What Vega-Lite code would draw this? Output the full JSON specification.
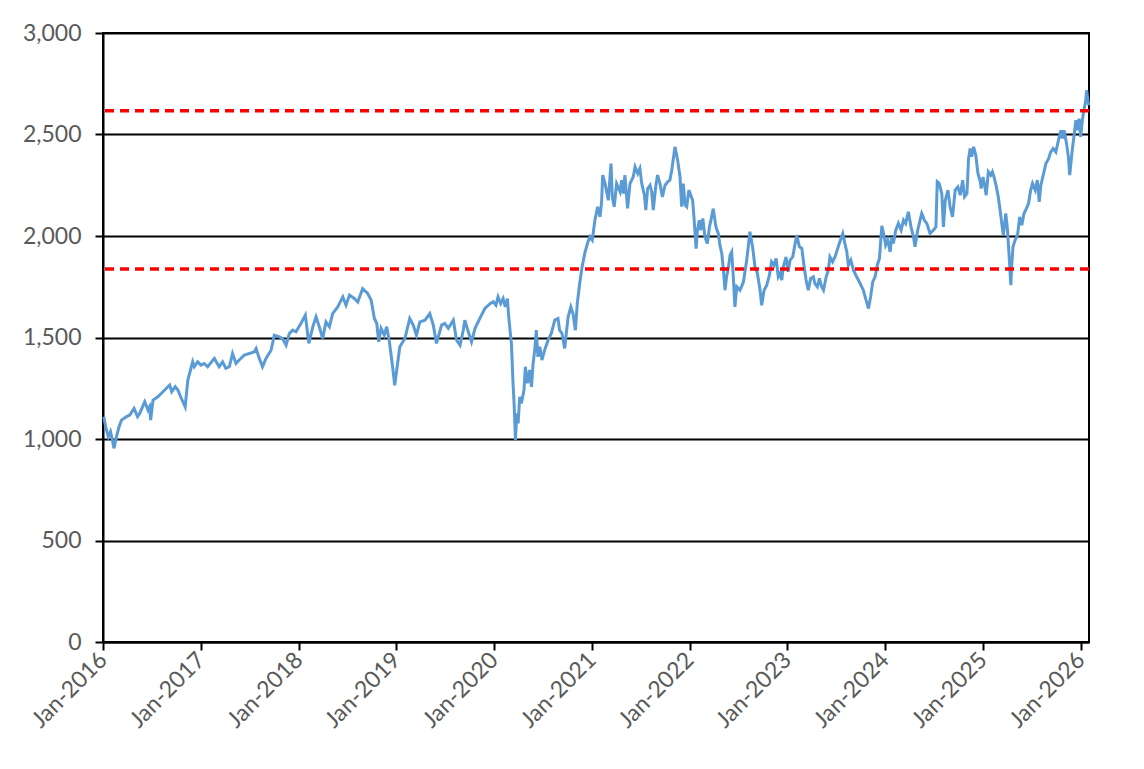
{
  "$schema": "https://vega.github.io/schema/vega-lite/v6.json",
  "width": 986,
  "height": 609,
  "autosize": "none",
  "padding": {"left": 103, "top": 33, "right": 55, "bottom": 127},
  "background": "white",
  "datasets": {
    "index": [
      {"d": "2016-01-04", "v": 1110}, {"d": "2016-01-11", "v": 1060}, {"d": "2016-01-21", "v": 1011}, {"d": "2016-01-29", "v": 1036},
      {"d": "2016-02-05", "v": 995}, {"d": "2016-02-11", "v": 954}, {"d": "2016-02-20", "v": 1011}, {"d": "2016-03-01", "v": 1060},
      {"d": "2016-03-10", "v": 1093}, {"d": "2016-03-29", "v": 1110}, {"d": "2016-04-10", "v": 1118}, {"d": "2016-04-26", "v": 1151},
      {"d": "2016-05-09", "v": 1110}, {"d": "2016-05-17", "v": 1126}, {"d": "2016-06-05", "v": 1184}, {"d": "2016-06-17", "v": 1143},
      {"d": "2016-06-23", "v": 1159}, {"d": "2016-06-27", "v": 1093}, {"d": "2016-07-06", "v": 1192}, {"d": "2016-07-24", "v": 1208},
      {"d": "2016-08-12", "v": 1233}, {"d": "2016-08-24", "v": 1249}, {"d": "2016-09-06", "v": 1266}, {"d": "2016-09-14", "v": 1233},
      {"d": "2016-09-27", "v": 1257}, {"d": "2016-10-07", "v": 1241}, {"d": "2016-10-17", "v": 1208}, {"d": "2016-11-03", "v": 1159},
      {"d": "2016-11-13", "v": 1290}, {"d": "2016-12-01", "v": 1380}, {"d": "2016-12-07", "v": 1356}, {"d": "2016-12-20", "v": 1380},
      {"d": "2017-01-01", "v": 1364}, {"d": "2017-01-13", "v": 1372}, {"d": "2017-01-26", "v": 1356}, {"d": "2017-02-20", "v": 1397},
      {"d": "2017-03-10", "v": 1356}, {"d": "2017-03-23", "v": 1380}, {"d": "2017-04-04", "v": 1348}, {"d": "2017-04-17", "v": 1356},
      {"d": "2017-04-29", "v": 1421}, {"d": "2017-05-12", "v": 1372}, {"d": "2017-05-24", "v": 1389}, {"d": "2017-06-12", "v": 1413},
      {"d": "2017-07-19", "v": 1429}, {"d": "2017-07-26", "v": 1446}, {"d": "2017-08-07", "v": 1397}, {"d": "2017-08-19", "v": 1356},
      {"d": "2017-09-01", "v": 1397}, {"d": "2017-09-20", "v": 1437}, {"d": "2017-10-02", "v": 1511}, {"d": "2017-10-21", "v": 1503},
      {"d": "2017-11-02", "v": 1495}, {"d": "2017-11-15", "v": 1462}, {"d": "2017-11-27", "v": 1519}, {"d": "2017-12-10", "v": 1536},
      {"d": "2017-12-22", "v": 1528}, {"d": "2018-01-10", "v": 1570}, {"d": "2018-01-26", "v": 1610}, {"d": "2018-02-08", "v": 1471},
      {"d": "2018-02-23", "v": 1553}, {"d": "2018-03-07", "v": 1602}, {"d": "2018-03-19", "v": 1553}, {"d": "2018-04-01", "v": 1495},
      {"d": "2018-04-13", "v": 1577}, {"d": "2018-04-26", "v": 1553}, {"d": "2018-05-08", "v": 1618}, {"d": "2018-05-27", "v": 1651},
      {"d": "2018-06-15", "v": 1700}, {"d": "2018-06-27", "v": 1659}, {"d": "2018-07-10", "v": 1709}, {"d": "2018-07-28", "v": 1692},
      {"d": "2018-08-10", "v": 1675}, {"d": "2018-08-28", "v": 1741}, {"d": "2018-09-16", "v": 1717}, {"d": "2018-09-29", "v": 1684},
      {"d": "2018-10-11", "v": 1594}, {"d": "2018-10-20", "v": 1569}, {"d": "2018-10-27", "v": 1479}, {"d": "2018-11-05", "v": 1545},
      {"d": "2018-11-17", "v": 1512}, {"d": "2018-11-26", "v": 1553}, {"d": "2018-12-06", "v": 1479}, {"d": "2018-12-18", "v": 1356},
      {"d": "2018-12-26", "v": 1265}, {"d": "2019-01-04", "v": 1356}, {"d": "2019-01-14", "v": 1454}, {"d": "2019-02-02", "v": 1495},
      {"d": "2019-02-20", "v": 1594}, {"d": "2019-03-05", "v": 1561}, {"d": "2019-03-17", "v": 1512}, {"d": "2019-03-30", "v": 1577},
      {"d": "2019-04-18", "v": 1585}, {"d": "2019-05-06", "v": 1618}, {"d": "2019-05-19", "v": 1561}, {"d": "2019-05-31", "v": 1471},
      {"d": "2019-06-19", "v": 1561}, {"d": "2019-07-01", "v": 1569}, {"d": "2019-07-14", "v": 1545}, {"d": "2019-08-02", "v": 1585},
      {"d": "2019-08-14", "v": 1487}, {"d": "2019-08-27", "v": 1462}, {"d": "2019-09-08", "v": 1536}, {"d": "2019-09-14", "v": 1585},
      {"d": "2019-09-27", "v": 1528}, {"d": "2019-10-09", "v": 1479}, {"d": "2019-10-22", "v": 1545}, {"d": "2019-11-09", "v": 1594},
      {"d": "2019-11-28", "v": 1643}, {"d": "2019-12-17", "v": 1667}, {"d": "2019-12-29", "v": 1676}, {"d": "2020-01-08", "v": 1659},
      {"d": "2020-01-16", "v": 1700}, {"d": "2020-01-26", "v": 1667}, {"d": "2020-02-04", "v": 1692}, {"d": "2020-02-12", "v": 1651},
      {"d": "2020-02-20", "v": 1692}, {"d": "2020-02-25", "v": 1602}, {"d": "2020-03-02", "v": 1520}, {"d": "2020-03-06", "v": 1471},
      {"d": "2020-03-12", "v": 1274}, {"d": "2020-03-16", "v": 1175}, {"d": "2020-03-21", "v": 995}, {"d": "2020-03-26", "v": 1126},
      {"d": "2020-03-31", "v": 1077}, {"d": "2020-04-06", "v": 1208}, {"d": "2020-04-12", "v": 1175}, {"d": "2020-04-22", "v": 1241},
      {"d": "2020-04-27", "v": 1356}, {"d": "2020-05-05", "v": 1274}, {"d": "2020-05-13", "v": 1340}, {"d": "2020-05-20", "v": 1257},
      {"d": "2020-05-26", "v": 1372}, {"d": "2020-06-01", "v": 1438}, {"d": "2020-06-07", "v": 1536}, {"d": "2020-06-13", "v": 1405},
      {"d": "2020-06-20", "v": 1454}, {"d": "2020-06-28", "v": 1389}, {"d": "2020-07-08", "v": 1438}, {"d": "2020-07-21", "v": 1487},
      {"d": "2020-08-02", "v": 1520}, {"d": "2020-08-15", "v": 1586}, {"d": "2020-08-27", "v": 1594}, {"d": "2020-09-02", "v": 1536},
      {"d": "2020-09-11", "v": 1520}, {"d": "2020-09-21", "v": 1446}, {"d": "2020-09-27", "v": 1520}, {"d": "2020-10-04", "v": 1602},
      {"d": "2020-10-14", "v": 1651}, {"d": "2020-10-22", "v": 1618}, {"d": "2020-10-31", "v": 1536}, {"d": "2020-11-07", "v": 1667},
      {"d": "2020-11-16", "v": 1766}, {"d": "2020-11-25", "v": 1848}, {"d": "2020-12-05", "v": 1914}, {"d": "2020-12-15", "v": 1963},
      {"d": "2020-12-24", "v": 1996}, {"d": "2021-01-02", "v": 1980}, {"d": "2021-01-12", "v": 2078}, {"d": "2021-01-22", "v": 2144},
      {"d": "2021-01-31", "v": 2094}, {"d": "2021-02-06", "v": 2169}, {"d": "2021-02-10", "v": 2300}, {"d": "2021-02-19", "v": 2258},
      {"d": "2021-03-03", "v": 2176}, {"d": "2021-03-13", "v": 2357}, {"d": "2021-03-18", "v": 2193}, {"d": "2021-03-25", "v": 2144},
      {"d": "2021-04-03", "v": 2258}, {"d": "2021-04-16", "v": 2218}, {"d": "2021-04-22", "v": 2275}, {"d": "2021-04-28", "v": 2209},
      {"d": "2021-05-04", "v": 2300}, {"d": "2021-05-14", "v": 2136}, {"d": "2021-05-23", "v": 2258}, {"d": "2021-06-04", "v": 2291},
      {"d": "2021-06-11", "v": 2341}, {"d": "2021-06-21", "v": 2308}, {"d": "2021-06-29", "v": 2333}, {"d": "2021-07-06", "v": 2258},
      {"d": "2021-07-16", "v": 2201}, {"d": "2021-07-21", "v": 2127}, {"d": "2021-07-28", "v": 2234}, {"d": "2021-08-06", "v": 2250},
      {"d": "2021-08-12", "v": 2218}, {"d": "2021-08-18", "v": 2127}, {"d": "2021-08-27", "v": 2242}, {"d": "2021-09-03", "v": 2300},
      {"d": "2021-09-12", "v": 2258}, {"d": "2021-09-21", "v": 2193}, {"d": "2021-10-01", "v": 2250}, {"d": "2021-10-11", "v": 2267},
      {"d": "2021-10-19", "v": 2275}, {"d": "2021-10-26", "v": 2324}, {"d": "2021-11-07", "v": 2439}, {"d": "2021-11-17", "v": 2373},
      {"d": "2021-11-26", "v": 2291}, {"d": "2021-12-02", "v": 2144}, {"d": "2021-12-08", "v": 2258}, {"d": "2021-12-15", "v": 2152},
      {"d": "2021-12-21", "v": 2144}, {"d": "2021-12-29", "v": 2226}, {"d": "2022-01-12", "v": 2176}, {"d": "2022-01-17", "v": 2094},
      {"d": "2022-01-25", "v": 1938}, {"d": "2022-01-30", "v": 2029}, {"d": "2022-02-06", "v": 2078}, {"d": "2022-02-11", "v": 2029},
      {"d": "2022-02-19", "v": 2086}, {"d": "2022-02-27", "v": 1996}, {"d": "2022-03-08", "v": 1963}, {"d": "2022-03-16", "v": 2045},
      {"d": "2022-03-24", "v": 2094}, {"d": "2022-03-30", "v": 2135}, {"d": "2022-04-09", "v": 2045}, {"d": "2022-04-18", "v": 2012},
      {"d": "2022-04-24", "v": 1955}, {"d": "2022-05-01", "v": 1914}, {"d": "2022-05-07", "v": 1832}, {"d": "2022-05-13", "v": 1733},
      {"d": "2022-05-19", "v": 1799}, {"d": "2022-05-26", "v": 1848}, {"d": "2022-06-01", "v": 1906}, {"d": "2022-06-07", "v": 1922},
      {"d": "2022-06-13", "v": 1799}, {"d": "2022-06-19", "v": 1651}, {"d": "2022-06-26", "v": 1750}, {"d": "2022-07-08", "v": 1733},
      {"d": "2022-07-21", "v": 1774}, {"d": "2022-08-02", "v": 1881}, {"d": "2022-08-08", "v": 1947}, {"d": "2022-08-14", "v": 2021},
      {"d": "2022-08-24", "v": 1947}, {"d": "2022-09-02", "v": 1848}, {"d": "2022-09-11", "v": 1816}, {"d": "2022-09-21", "v": 1733},
      {"d": "2022-09-27", "v": 1659}, {"d": "2022-10-06", "v": 1733}, {"d": "2022-10-16", "v": 1758}, {"d": "2022-10-26", "v": 1807},
      {"d": "2022-11-03", "v": 1873}, {"d": "2022-11-12", "v": 1856}, {"d": "2022-11-20", "v": 1889}, {"d": "2022-11-28", "v": 1799},
      {"d": "2022-12-05", "v": 1816}, {"d": "2022-12-11", "v": 1783}, {"d": "2022-12-17", "v": 1848}, {"d": "2022-12-27", "v": 1897},
      {"d": "2023-01-04", "v": 1824}, {"d": "2023-01-11", "v": 1881}, {"d": "2023-01-21", "v": 1897}, {"d": "2023-01-30", "v": 1963},
      {"d": "2023-02-05", "v": 2004}, {"d": "2023-02-15", "v": 1947}, {"d": "2023-02-24", "v": 1939}, {"d": "2023-03-04", "v": 1856},
      {"d": "2023-03-12", "v": 1783}, {"d": "2023-03-20", "v": 1733}, {"d": "2023-03-29", "v": 1791}, {"d": "2023-04-08", "v": 1799},
      {"d": "2023-04-14", "v": 1766}, {"d": "2023-04-23", "v": 1750}, {"d": "2023-05-01", "v": 1791}, {"d": "2023-05-09", "v": 1750},
      {"d": "2023-05-16", "v": 1733}, {"d": "2023-05-26", "v": 1799}, {"d": "2023-06-03", "v": 1832}, {"d": "2023-06-09", "v": 1897},
      {"d": "2023-06-19", "v": 1873}, {"d": "2023-06-28", "v": 1897}, {"d": "2023-07-04", "v": 1922}, {"d": "2023-07-14", "v": 1963},
      {"d": "2023-07-27", "v": 2012}, {"d": "2023-08-04", "v": 1963}, {"d": "2023-08-11", "v": 1922}, {"d": "2023-08-17", "v": 1856},
      {"d": "2023-08-26", "v": 1881}, {"d": "2023-09-05", "v": 1832}, {"d": "2023-09-17", "v": 1799}, {"d": "2023-09-30", "v": 1766},
      {"d": "2023-10-12", "v": 1733}, {"d": "2023-10-22", "v": 1684}, {"d": "2023-10-31", "v": 1643}, {"d": "2023-11-08", "v": 1700},
      {"d": "2023-11-16", "v": 1774}, {"d": "2023-11-25", "v": 1800}, {"d": "2023-12-03", "v": 1856}, {"d": "2023-12-11", "v": 1889},
      {"d": "2023-12-20", "v": 2050}, {"d": "2023-12-29", "v": 1996}, {"d": "2024-01-03", "v": 1955}, {"d": "2024-01-11", "v": 1980},
      {"d": "2024-01-20", "v": 1922}, {"d": "2024-01-26", "v": 1996}, {"d": "2024-02-01", "v": 1963}, {"d": "2024-02-10", "v": 2029},
      {"d": "2024-02-20", "v": 2062}, {"d": "2024-03-01", "v": 2029}, {"d": "2024-03-10", "v": 2078}, {"d": "2024-03-18", "v": 2062},
      {"d": "2024-03-28", "v": 2119}, {"d": "2024-04-07", "v": 2045}, {"d": "2024-04-16", "v": 1996}, {"d": "2024-04-22", "v": 1947},
      {"d": "2024-05-02", "v": 2029}, {"d": "2024-05-11", "v": 2078}, {"d": "2024-05-17", "v": 2111}, {"d": "2024-05-27", "v": 2078},
      {"d": "2024-06-05", "v": 2062}, {"d": "2024-06-17", "v": 2012}, {"d": "2024-06-30", "v": 2029}, {"d": "2024-07-09", "v": 2045},
      {"d": "2024-07-14", "v": 2267}, {"d": "2024-07-21", "v": 2259}, {"d": "2024-07-31", "v": 2209}, {"d": "2024-08-06", "v": 2045},
      {"d": "2024-08-13", "v": 2176}, {"d": "2024-08-23", "v": 2226}, {"d": "2024-08-31", "v": 2144}, {"d": "2024-09-09", "v": 2094},
      {"d": "2024-09-19", "v": 2226}, {"d": "2024-09-29", "v": 2242}, {"d": "2024-10-08", "v": 2201}, {"d": "2024-10-17", "v": 2275},
      {"d": "2024-10-24", "v": 2193}, {"d": "2024-11-02", "v": 2209}, {"d": "2024-11-08", "v": 2381}, {"d": "2024-11-14", "v": 2431},
      {"d": "2024-11-20", "v": 2390}, {"d": "2024-11-27", "v": 2439}, {"d": "2024-12-05", "v": 2398}, {"d": "2024-12-13", "v": 2308},
      {"d": "2024-12-22", "v": 2267}, {"d": "2024-12-25", "v": 2234}, {"d": "2025-01-01", "v": 2291}, {"d": "2025-01-08", "v": 2242},
      {"d": "2025-01-13", "v": 2201}, {"d": "2025-01-21", "v": 2316}, {"d": "2025-01-30", "v": 2300}, {"d": "2025-02-05", "v": 2316},
      {"d": "2025-02-11", "v": 2291}, {"d": "2025-02-20", "v": 2242}, {"d": "2025-02-27", "v": 2193}, {"d": "2025-03-06", "v": 2127},
      {"d": "2025-03-12", "v": 2062}, {"d": "2025-03-18", "v": 2004}, {"d": "2025-03-27", "v": 2111}, {"d": "2025-04-02", "v": 2037},
      {"d": "2025-04-08", "v": 1914}, {"d": "2025-04-15", "v": 1758}, {"d": "2025-04-18", "v": 1850}, {"d": "2025-04-23", "v": 1947},
      {"d": "2025-05-01", "v": 1980}, {"d": "2025-05-10", "v": 2004}, {"d": "2025-05-18", "v": 2094}, {"d": "2025-05-26", "v": 2053},
      {"d": "2025-06-03", "v": 2111}, {"d": "2025-06-12", "v": 2135}, {"d": "2025-06-20", "v": 2160}, {"d": "2025-06-28", "v": 2226},
      {"d": "2025-07-05", "v": 2259}, {"d": "2025-07-15", "v": 2226}, {"d": "2025-07-23", "v": 2275}, {"d": "2025-07-30", "v": 2168},
      {"d": "2025-08-05", "v": 2250}, {"d": "2025-08-14", "v": 2300}, {"d": "2025-08-24", "v": 2357}, {"d": "2025-09-03", "v": 2381},
      {"d": "2025-09-11", "v": 2414}, {"d": "2025-09-20", "v": 2431}, {"d": "2025-09-30", "v": 2414}, {"d": "2025-10-10", "v": 2472},
      {"d": "2025-10-19", "v": 2521}, {"d": "2025-10-25", "v": 2480}, {"d": "2025-10-31", "v": 2521}, {"d": "2025-11-09", "v": 2455},
      {"d": "2025-11-16", "v": 2390}, {"d": "2025-11-21", "v": 2300}, {"d": "2025-11-29", "v": 2406}, {"d": "2025-12-08", "v": 2505},
      {"d": "2025-12-14", "v": 2570}, {"d": "2025-12-20", "v": 2521}, {"d": "2025-12-26", "v": 2578}, {"d": "2026-01-01", "v": 2488},
      {"d": "2026-01-07", "v": 2570}, {"d": "2026-01-13", "v": 2619}, {"d": "2026-01-20", "v": 2668}, {"d": "2026-01-23", "v": 2718},
      {"d": "2026-01-28", "v": 2668}, {"d": "2026-01-31", "v": 2644}
    ],
    "levels": [{"level": 2617}, {"level": 1837}]
  },
  "layer": [
    {
      "data": {"name": "index"},
      "mark": {"type": "line", "color": "#5B9BD5", "strokeWidth": 3, "interpolate": "linear"},
      "encoding": {
        "x": {
          "field": "d",
          "type": "temporal",
          "title": null,
          "scale": {
            "type": "utc",
            "nice": false,
            "domain": [
              {"year": 2016, "month": 1, "date": 1, "utc": true},
              {"year": 2026, "month": 2, "date": 1, "utc": true}
            ]
          },
          "axis": {
            "format": "%b-%Y",
            "tickCount": {"interval": "year", "step": 1},
            "labelAngle": -45,
            "labelAlign": "right",
            "labelBaseline": "middle",
            "labelPadding": 6,
            "grid": false
          }
        },
        "y": {
          "field": "v",
          "type": "quantitative",
          "title": null,
          "scale": {"domain": [0, 3000], "nice": false},
          "axis": {
            "values": [0, 500, 1000, 1500, 2000, 2500, 3000],
            "format": ",d",
            "grid": true,
            "labelPadding": 14
          }
        }
      }
    },
    {
      "data": {"name": "levels"},
      "mark": {"type": "rule", "color": "#FF0000", "strokeWidth": 3.5, "strokeDash": [9, 6]},
      "encoding": {
        "y": {"field": "level", "type": "quantitative"}
      }
    }
  ],
  "config": {
    "font": "Lato",
    "view": {"stroke": "black", "strokeWidth": 2},
    "axis": {
      "labelFont": "Lato",
      "labelFontSize": 23,
      "labelColor": "#595959",
      "domainColor": "black",
      "domainWidth": 2,
      "tickColor": "black",
      "tickWidth": 2,
      "tickSize": 8,
      "gridColor": "black",
      "gridWidth": 2,
      "gridOpacity": 1
    }
  }
}
